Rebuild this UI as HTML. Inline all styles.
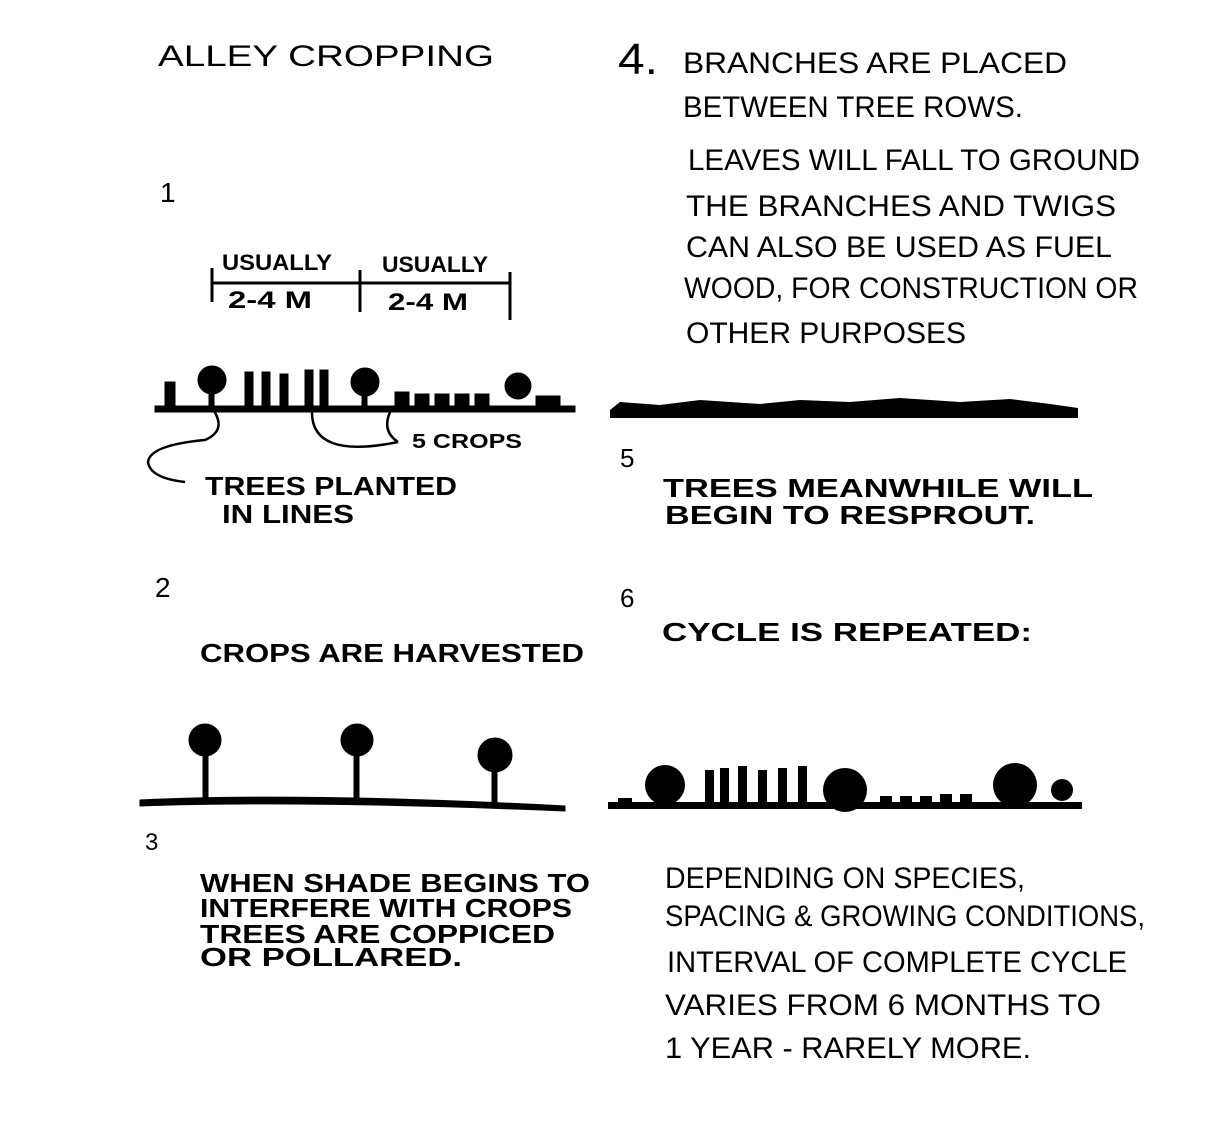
<!DOCTYPE html>
<html><head><meta charset="utf-8"><style>
html,body{margin:0;padding:0;background:#fff;}
svg{display:block;}
text{font-family:"Liberation Sans",sans-serif;fill:#000;}
.h{font-size:30px;font-weight:normal;}
.m{font-size:26px;font-weight:bold;}
</style></head><body>
<svg width="1216" height="1147" viewBox="0 0 1216 1147" xmlns="http://www.w3.org/2000/svg">
<rect width="1216" height="1147" fill="#fff"/>
<g stroke="#000" fill="none" stroke-width="2">
<!-- titles -->
</g>
<text x="158" y="66" class="h" textLength="336" lengthAdjust="spacingAndGlyphs">ALLEY CROPPING</text>
<text x="618" y="74" style="font-size:44px" textLength="40" lengthAdjust="spacingAndGlyphs">4.</text>
<text x="683" y="73" class="h" textLength="384" lengthAdjust="spacingAndGlyphs">BRANCHES ARE PLACED</text>
<text x="683" y="117" class="h" textLength="340" lengthAdjust="spacingAndGlyphs">BETWEEN TREE ROWS.</text>
<text x="688" y="170" class="h" textLength="452" lengthAdjust="spacingAndGlyphs">LEAVES WILL FALL TO GROUND</text>
<text x="686" y="216" class="h" textLength="430" lengthAdjust="spacingAndGlyphs">THE BRANCHES AND TWIGS</text>
<text x="686" y="257" class="h" textLength="426" lengthAdjust="spacingAndGlyphs">CAN ALSO BE USED AS FUEL</text>
<text x="684" y="298" class="h" textLength="454" lengthAdjust="spacingAndGlyphs">WOOD, FOR CONSTRUCTION OR</text>
<text x="686" y="343" class="h" textLength="280" lengthAdjust="spacingAndGlyphs">OTHER PURPOSES</text>

<text x="160" y="202" style="font-size:28px">1</text>
<text x="222" y="270" class="m" textLength="110" lengthAdjust="spacingAndGlyphs" style="font-size:22px">USUALLY</text>
<text x="382" y="272" class="m" textLength="106" lengthAdjust="spacingAndGlyphs" style="font-size:22px">USUALLY</text>
<g stroke="#000" stroke-width="3" fill="none">
<line x1="212" y1="283" x2="510" y2="283"/>
<line x1="212" y1="268" x2="212" y2="302"/>
<line x1="360" y1="270" x2="360" y2="312"/>
<line x1="510" y1="272" x2="510" y2="320"/>
</g>
<text x="228" y="308" class="m" textLength="84" lengthAdjust="spacingAndGlyphs" style="font-size:24px">2-4 M</text>
<text x="388" y="310" class="m" textLength="80" lengthAdjust="spacingAndGlyphs" style="font-size:24px">2-4 M</text>

<!-- scene 1 -->
<g fill="#000" stroke="#000">
<rect x="155" y="406" width="420" height="6"/>
<circle cx="212" cy="380" r="14"/><rect x="209" y="385" width="5" height="25"/>
<rect x="165" y="382" width="10" height="26"/>
<rect x="245" y="372" width="8" height="36"/><rect x="262" y="372" width="8" height="36"/><rect x="280" y="374" width="8" height="34"/>
<rect x="305" y="370" width="8" height="38"/><rect x="320" y="370" width="8" height="38"/>
<circle cx="365" cy="382" r="14"/><rect x="362" y="388" width="5" height="20"/>
<rect x="395" y="392" width="14" height="16"/><rect x="415" y="394" width="14" height="14"/><rect x="435" y="394" width="14" height="14"/><rect x="455" y="394" width="14" height="14"/><rect x="475" y="394" width="14" height="14"/>
<circle cx="518" cy="386" r="13"/><rect x="536" y="396" width="24" height="12"/>
</g>
<g stroke="#000" stroke-width="2.5" fill="none">
<path d="M185 482 Q150 478 148 462 Q150 445 205 440 Q228 430 212 408"/>
<path d="M398 442 Q310 460 312 410"/>
<path d="M398 442 Q380 430 392 408"/>
</g>
<text x="412" y="448" class="m" style="font-size:20px" textLength="110" lengthAdjust="spacingAndGlyphs">5 CROPS</text>
<text x="205" y="495" class="m" textLength="252" lengthAdjust="spacingAndGlyphs">TREES PLANTED</text>
<text x="222" y="523" class="m" textLength="132" lengthAdjust="spacingAndGlyphs">IN LINES</text>

<text x="155" y="597" style="font-size:28px">2</text>
<text x="200" y="662" class="m" textLength="384" lengthAdjust="spacingAndGlyphs">CROPS ARE HARVESTED</text>

<g fill="#000" stroke="#000">
<path d="M140 800 Q300 792 565 806 L565 811 Q300 800 140 806Z"/>
<circle cx="205" cy="740" r="16"/><rect x="203" y="750" width="5" height="52"/>
<circle cx="357" cy="740" r="16"/><rect x="354" y="750" width="5" height="52"/>
<circle cx="495" cy="755" r="17"/><rect x="492" y="762" width="5" height="44"/>
</g>

<text x="145" y="850" style="font-size:24px">3</text>
<text x="200" y="892" class="m" textLength="390" lengthAdjust="spacingAndGlyphs">WHEN SHADE BEGINS TO</text>
<text x="200" y="917" class="m" textLength="372" lengthAdjust="spacingAndGlyphs">INTERFERE WITH CROPS</text>
<text x="200" y="943" class="m" textLength="355" lengthAdjust="spacingAndGlyphs">TREES ARE COPPICED</text>
<text x="200" y="966" class="m" textLength="262" lengthAdjust="spacingAndGlyphs">OR POLLARED.</text>

<!-- right scenes -->
<g fill="#000">
<path d="M610 410 L620 402 L660 405 L700 400 L760 404 L800 400 L850 402 L900 398 L960 402 L1010 399 L1050 404 L1078 408 L1078 418 L610 418Z"/>
</g>
<text x="620" y="467" style="font-size:26px">5</text>
<text x="663" y="497" class="m" textLength="430" lengthAdjust="spacingAndGlyphs">TREES MEANWHILE WILL</text>
<text x="665" y="524" class="m" textLength="370" lengthAdjust="spacingAndGlyphs">BEGIN TO RESPROUT.</text>
<text x="620" y="607" style="font-size:26px">6</text>
<text x="662" y="641" class="m" textLength="370" lengthAdjust="spacingAndGlyphs">CYCLE IS REPEATED:</text>

<g fill="#000">
<rect x="608" y="802" width="474" height="7"/>
<circle cx="665" cy="785" r="20"/>
<rect x="705" y="770" width="9" height="34"/><rect x="720" y="768" width="9" height="36"/><rect x="738" y="766" width="9" height="38"/><rect x="758" y="770" width="9" height="34"/><rect x="778" y="768" width="9" height="36"/><rect x="798" y="766" width="9" height="38"/>
<circle cx="845" cy="790" r="22"/>
<rect x="880" y="796" width="12" height="8"/><rect x="900" y="796" width="12" height="8"/><rect x="920" y="796" width="12" height="8"/><rect x="940" y="794" width="12" height="10"/><rect x="960" y="794" width="12" height="10"/>
<circle cx="1015" cy="785" r="22"/><circle cx="1062" cy="790" r="11"/>
<rect x="618" y="798" width="14" height="6"/>
</g>

<text x="665" y="888" class="h" textLength="360" lengthAdjust="spacingAndGlyphs">DEPENDING ON SPECIES,</text>
<text x="665" y="926" class="h" textLength="480" lengthAdjust="spacingAndGlyphs">SPACING &amp; GROWING CONDITIONS,</text>
<text x="667" y="972" class="h" textLength="460" lengthAdjust="spacingAndGlyphs">INTERVAL OF COMPLETE CYCLE</text>
<text x="665" y="1015" class="h" textLength="436" lengthAdjust="spacingAndGlyphs">VARIES FROM 6 MONTHS TO</text>
<text x="665" y="1058" class="h" textLength="366" lengthAdjust="spacingAndGlyphs">1 YEAR - RARELY MORE.</text>
</svg>
</body></html>
